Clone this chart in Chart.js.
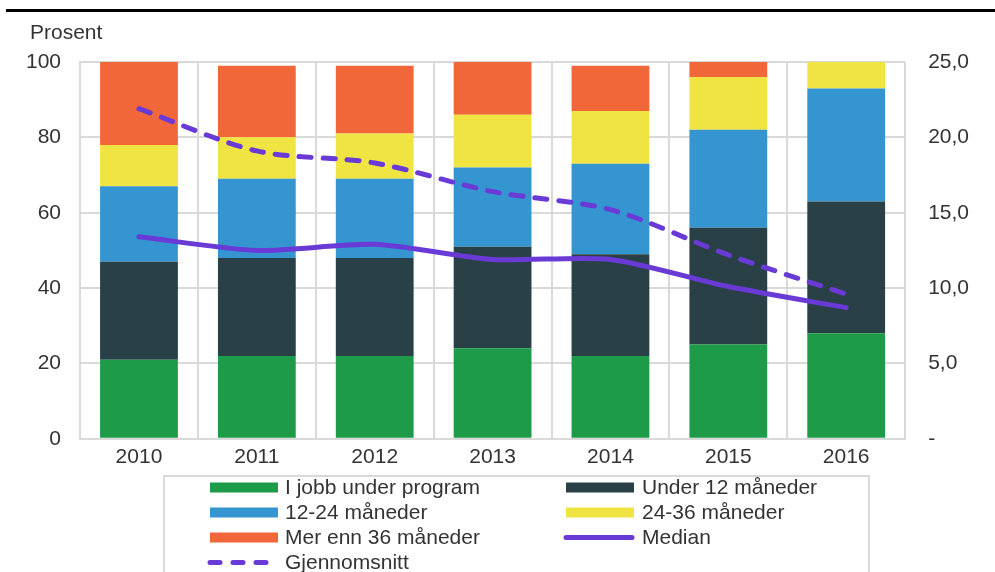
<!DOCTYPE html>
<html>
<head>
<meta charset="utf-8">
<script src="https://cdn.jsdelivr.net/npm/chart.js@4"></script>
<style>
  html, body { margin: 0; padding: 0; background: #fff; overflow: hidden; }
  #wrap { position: relative; width: 995px; height: 572px; }
  #rule { position: absolute; left: 6px; right: 0; top: 9px; height: 3px; background: #000; }
  #unit { position: absolute; left: 30px; top: 20px; line-height: 25px;
          font: 21px 'Liberation Sans', Arial, sans-serif; color: #333; }
  #legend { position: absolute; left: 163px; top: 475px; width: 707px; height: 130px;
            border: 2px solid #d9d9d9; box-sizing: border-box; }
  .item { position: absolute; height: 25px; line-height: 25px; white-space: nowrap;
          font: 21px 'Liberation Sans', Arial, sans-serif; color: #333; }
  .item svg { position: absolute; top: 0; }
  .item span { position: absolute; top: 0; }
</style>
</head>
<body>
<div id="wrap">
  <canvas id="chart"></canvas>
  <div id="rule"></div>
  <div id="unit">Prosent</div>
  <div id="legend"></div>
</div>
<script>
document.addEventListener('DOMContentLoaded', function () {

    // Data
    const years = ['2010', '2011', '2012', '2013', '2014', '2015', '2016'];
    const jobbUnderProgram = [21, 22, 22, 24, 22, 25, 28];
    const under12 = [26, 26, 26, 27, 27, 31, 35];
    const m12to24 = [20, 21, 21, 21, 24, 26, 30];
    const m24to36 = [11, 11, 12, 14, 14, 14, 7];
    const over36 = [22, 19, 18, 14, 12, 4, 0];
    const median = [13.4, 12.5, 12.9, 11.9, 11.9, 10.1, 8.7];
    const gjennomsnitt = [21.9, 19.1, 18.3, 16.4, 15.2, 12.2, 9.6];

    const font = { size: 21, family: "'Liberation Sans', Arial, sans-serif" };
    const textColor = '#333333';
    const gridColor = '#d9d9d9';
    const purple = '#6a3ad6';

    const bar = (label, data, color) => ({
        type: 'bar', label: label, data: data, backgroundColor: color,
        borderWidth: 0, yAxisID: 'y', order: 2,
        categoryPercentage: 1.0, barPercentage: 0.66
    });

    const chart = new Chart(document.getElementById('chart').getContext('2d'), {
        data: {
            labels: years,
            datasets: [
                bar('I jobb under program', jobbUnderProgram, '#1d9b49'),
                bar('Under 12 måneder', under12, '#284046'),
                bar('12-24 måneder', m12to24, '#3595d1'),
                bar('24-36 måneder', m24to36, '#f0e442'),
                bar('Mer enn 36 måneder', over36, '#f26739'),
                {
                    type: 'line', label: 'Median', data: median, yAxisID: 'y1', order: 1,
                    borderColor: purple, borderWidth: 5, tension: 0.25,
                    pointRadius: 0, borderCapStyle: 'round', fill: false
                },
                {
                    type: 'line', label: 'Gjennomsnitt', data: gjennomsnitt, yAxisID: 'y1', order: 1,
                    borderColor: purple, borderWidth: 5, tension: 0.3, borderDash: [12, 12],
                    pointRadius: 0, borderCapStyle: 'round', fill: false
                }
            ]
        },
        options: {
            responsive: true,
            maintainAspectRatio: false,
            animation: false,
            layout: { padding: { left: 7, right: 3, top: 62, bottom: 96 } },
            plugins: {
                legend: { display: false },
                tooltip: { enabled: false },
                title: { display: false }
            },
            scales: {
                x: {
                    stacked: true,
                    grid: { offset: true, color: gridColor, lineWidth: 2, drawTicks: false },
                    border: { color: gridColor, width: 2 },
                    ticks: { font: font, color: textColor, padding: 6 }
                },
                y: {
                    stacked: true, min: 0, max: 100,
                    grid: { color: gridColor, lineWidth: 2, drawTicks: false },
                    border: { color: gridColor, width: 2 },
                    ticks: { stepSize: 20, font: font, color: textColor, padding: 19 }
                },
                y1: {
                    position: 'right', min: 0, max: 25,
                    grid: { display: false, drawTicks: false },
                    border: { display: false },
                    ticks: {
                        stepSize: 5, font: font, color: textColor, padding: 23,
                        callback: v => v === 0 ? '-' : v.toFixed(1).replace('.', ',')
                    }
                }
            }
        }
    });

    // Legend in two columns, built from the datasets
    const legend = document.getElementById('legend');
    const colX = [210, 566];
    const textX = [285, 642];
    chart.data.datasets.forEach(function (ds, i) {
        const col = i % 2, row = Math.floor(i / 2);
        const item = document.createElement('div');
        item.className = 'item';
        item.style.left = '0px';
        item.style.top = (487 + row * 25 - 12.5 - 477) + 'px';
        let swatch;
        if (ds.type === 'bar') {
            swatch = '<svg width="68" height="25" style="left:' + (colX[col] - 165) + 'px">' +
                '<rect x="0" y="7.5" width="68" height="10" fill="' + ds.backgroundColor + '"/></svg>';
        } else {
            const dash = ds.borderDash ? ' stroke-dasharray="10 13"' : '';
            swatch = '<svg width="76" height="25" style="left:' + (colX[col] - 165 - 4) + 'px">' +
                '<line x1="4" y1="12.5" x2="70" y2="12.5" stroke="' + ds.borderColor +
                '" stroke-width="5" stroke-linecap="round"' + dash + '/></svg>';
        }
        item.innerHTML = swatch + '<span style="left:' + (textX[col] - 165) + 'px">' + ds.label + '</span>';
        legend.appendChild(item);
    });

});
</script>
</body>
</html>
